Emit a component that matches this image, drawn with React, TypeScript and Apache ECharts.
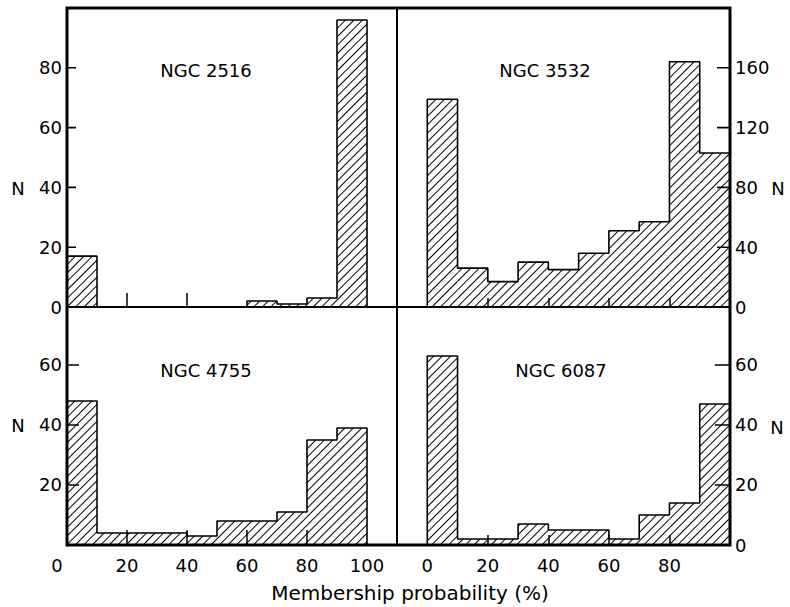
import React, { useEffect, useRef } from 'react';
import * as echarts from 'echarts';

// ---- data ----
const binStarts = [0, 10, 20, 30, 40, 50, 60, 70, 80, 90];
const binWidth = 10;
const ngc2516 = [17, 0, 0, 0, 0, 0, 2, 1, 3, 96];
const ngc3532 = [139, 26, 17, 30, 25, 36, 51, 57, 164, 103];
const ngc4755 = [48, 4, 4, 4, 3, 8, 8, 11, 35, 39];
const ngc6087 = [63, 2, 2, 7, 5, 5, 2, 10, 14, 47];
const clusterNames = ['NGC 2516', 'NGC 3532', 'NGC 4755', 'NGC 6087'];
const xTicksTL = [20, 40];
const xTicks = [20, 40, 60, 80];
const xLabelsLeft = [0, 20, 40, 60, 80, 100];
const xLabelsRight = [0, 20, 40, 60, 80];
const yLabelsTL = [0, 20, 40, 60, 80];
const yTicksTL = [20, 40, 60, 80];
const yLabelsTR = [0, 40, 80, 120, 160];
const yTicksTR = [40, 80, 120, 160];
const yLabelsBL = [20, 40, 60];
const yTicksBL = [20, 40, 60];
const yLabelsBR = [0, 20, 40, 60];
const yTicksBR = [20, 40, 60];
const xAxisTitle = 'Membership probability (%)';
const yAxisTitle = 'N';

const FONT = 'DejaVu Sans';

export default function App() {
  const ref = useRef<HTMLDivElement>(null);
  useEffect(() => {
    const chart = echarts.init(ref.current!, null, { renderer: 'svg' });

    // yTickSpan: length of the inward y tick, in x-axis units
    const panels = [
      { counts: ngc2516, grid: { left: 67, top: 8, width: 330, height: 299 }, xMin: 0, xMax: 110, yMax: 100, yInterval: 20,
        yLabels: yLabelsTL, yTicks: yTicksTL, yPos: 'left', yTickSpan: 3, xTickLen: 14, xTicks: xTicksTL, xLabels: null as number[] | null,
        title: [206, 70], n: [18, 188] },
      { counts: ngc3532, grid: { left: 397, top: 8, width: 333, height: 299 }, xMin: -10, xMax: 100, yMax: 200, yInterval: 40,
        yLabels: yLabelsTR, yTicks: yTicksTR, yPos: 'right', yTickSpan: 4.3, xTickLen: 9, xTicks: xTicks, xLabels: null,
        title: [545, 70], n: [778, 188] },
      { counts: ngc4755, grid: { left: 67, top: 307, width: 330, height: 238 }, xMin: 0, xMax: 110, yMax: 79.33, yInterval: 20,
        yLabels: yLabelsBL, yTicks: yTicksBL, yPos: 'left', yTickSpan: 4, xTickLen: 15, xTicks: xTicks, xLabels: xLabelsLeft,
        title: [206, 370], n: [18, 425] },
      { counts: ngc6087, grid: { left: 397, top: 307, width: 333, height: 238 }, xMin: -10, xMax: 100, yMax: 79.33, yInterval: 20,
        yLabels: yLabelsBR, yTicks: yTicksBR, yPos: 'right', yTickSpan: 5, xTickLen: 10, xTicks: xTicks, xLabels: xLabelsRight,
        title: [561, 370], n: [777, 427] },
    ];

    const tickLine = { color: '#000', width: 1.5 };
    const labelBase = { color: '#000', fontFamily: FONT, fontSize: 18 };

    const graphics: any[] = [
      {
        type: 'rect',
        shape: { x: 67, y: 8, width: 663, height: 537 },
        style: { fill: 'none', stroke: '#000', lineWidth: 3 },
        z: 100,
        silent: true,
      },
      ...panels.map((p, i) => ({
        type: 'text',
        x: p.title[0],
        y: p.title[1],
        style: { text: clusterNames[i], fill: '#000', font: `18px "${FONT}"`, align: 'center', verticalAlign: 'middle' },
        z: 100,
      })),
      ...panels.map((p) => ({
        type: 'text',
        x: p.n[0],
        y: p.n[1],
        style: { text: yAxisTitle, fill: '#000', font: `18px "${FONT}"`, align: 'center', verticalAlign: 'middle' },
        z: 100,
      })),
      {
        type: 'text',
        x: 410,
        y: 593,
        style: { text: xAxisTitle, fill: '#000', font: `20px "${FONT}"`, align: 'center', verticalAlign: 'middle' },
        z: 100,
      },
    ];

    const option: any = {
      animation: false,
      backgroundColor: '#fff',
      grid: panels.map((p) => ({ ...p.grid, show: true, borderColor: '#000', borderWidth: 2, backgroundColor: 'transparent' })),
      xAxis: panels.map((p, i) => ({
        gridIndex: i,
        type: 'value',
        min: p.xMin,
        max: p.xMax,
        position: 'bottom',
        axisLine: { show: true, onZero: false, lineStyle: { color: '#000', width: 2 } },
        splitLine: { show: false },
        axisTick: { show: true, inside: true, length: p.xTickLen, customValues: p.xTicks, lineStyle: tickLine },
        axisLabel: p.xLabels
          ? {
              show: true,
              customValues: p.xLabels,
              margin: 11,
              ...labelBase,
              formatter: (v: number) => (v === 0 && i === 2 ? '{z|0}' : String(v)),
              rich: { z: { ...labelBase, padding: [0, 20, 0, 0] } },
            }
          : { show: false },
      })),
      yAxis: panels.map((p, i) => ({
        gridIndex: i,
        type: 'value',
        min: 0,
        max: p.yMax,
        interval: p.yInterval,
        position: p.yPos,
        axisLine: { show: true, onZero: false, lineStyle: { color: '#000', width: 2 } },
        splitLine: { show: false },
        axisTick: { show: false },
        axisLabel: { show: true, customValues: p.yLabels, margin: 5, ...labelBase },
      })),
      series: panels.flatMap((p, i) => {
        const edge = p.yPos === 'left' ? p.xMin : p.xMax;
        const inner = p.yPos === 'left' ? p.xMin + p.yTickSpan : p.xMax - p.yTickSpan;
        return [
          {
            type: 'bar',
            xAxisIndex: i,
            yAxisIndex: i,
            barWidth: '100%',
            silent: true,
            data: binStarts.map((s, k) => [s + binWidth / 2, p.counts[k]]),
            itemStyle: {
              color: 'rgba(255,255,255,0)',
              borderWidth: 0,
              decal: {
                symbol: 'rect',
                symbolSize: 1,
                color: '#000',
                dashArrayX: [1, 0],
                dashArrayY: [1, 5],
                rotation: -Math.PI / 4,
              },
            },
          },
          {
            type: 'line',
            xAxisIndex: i,
            yAxisIndex: i,
            step: 'end',
            symbol: 'none',
            silent: true,
            data: [[binStarts[0], 0], ...binStarts.map((s, k) => [s, p.counts[k]]), [binStarts[binStarts.length - 1] + binWidth, 0]],
            lineStyle: { color: '#000', width: 1.6 },
            z: 4,
          },
          {
            // y-axis tick marks as short line segments, separated by gaps
            type: 'line',
            xAxisIndex: i,
            yAxisIndex: i,
            symbol: 'none',
            silent: true,
            connectNulls: false,
            clip: false,
            data: p.yTicks.flatMap((v) => [[edge, v], [inner, v], [edge, null]]),
            lineStyle: { color: '#000', width: 1.6 },
            z: 6,
          },
        ];
      }),
      graphic: graphics,
    };

    chart.setOption(option);
    return () => chart.dispose();
  }, []);

  return <div ref={ref} style={{ position: 'fixed', left: 0, top: 0, width: 790, height: 607, background: '#fff' }} />;
}
